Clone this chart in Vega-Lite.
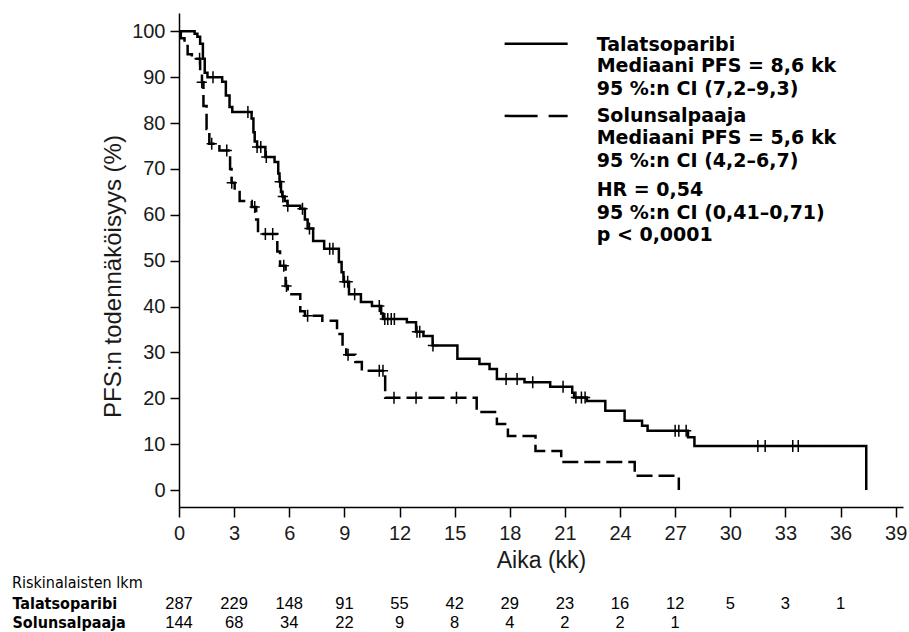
{
  "$schema": "https://vega.github.io/schema/vega-lite/v6.json",
  "autosize": {"type": "pad"},
  "padding": {"left": 12, "top": 13, "right": 0, "bottom": 0},
  "background": "white",
  "config": {"view": {"stroke": null}, "font": "Liberation Sans"},
  "bounds": "flush",
  "spacing": 87,
  "datasets": {
    "curves": [
      {"arm": "Talatsoparibi", "month": 0, "surv": 100},
      {"arm": "Talatsoparibi", "month": 0.7, "surv": 100},
      {"arm": "Talatsoparibi", "month": 0.85, "surv": 99.5},
      {"arm": "Talatsoparibi", "month": 1.0, "surv": 98.8},
      {"arm": "Talatsoparibi", "month": 1.15, "surv": 97.3},
      {"arm": "Talatsoparibi", "month": 1.3, "surv": 94},
      {"arm": "Talatsoparibi", "month": 1.4, "surv": 91},
      {"arm": "Talatsoparibi", "month": 1.55, "surv": 90},
      {"arm": "Talatsoparibi", "month": 2.35, "surv": 89},
      {"arm": "Talatsoparibi", "month": 2.55, "surv": 86},
      {"arm": "Talatsoparibi", "month": 2.75, "surv": 83.5},
      {"arm": "Talatsoparibi", "month": 2.9, "surv": 82.4},
      {"arm": "Talatsoparibi", "month": 3.95, "surv": 81},
      {"arm": "Talatsoparibi", "month": 4.05, "surv": 78},
      {"arm": "Talatsoparibi", "month": 4.12, "surv": 76},
      {"arm": "Talatsoparibi", "month": 4.25, "surv": 74.8},
      {"arm": "Talatsoparibi", "month": 4.7, "surv": 72.6},
      {"arm": "Talatsoparibi", "month": 5.2, "surv": 71.5},
      {"arm": "Talatsoparibi", "month": 5.4, "surv": 69},
      {"arm": "Talatsoparibi", "month": 5.47, "surv": 67.2},
      {"arm": "Talatsoparibi", "month": 5.55, "surv": 65},
      {"arm": "Talatsoparibi", "month": 5.62, "surv": 64},
      {"arm": "Talatsoparibi", "month": 5.75, "surv": 63},
      {"arm": "Talatsoparibi", "month": 5.9, "surv": 62},
      {"arm": "Talatsoparibi", "month": 6.6, "surv": 61.3},
      {"arm": "Talatsoparibi", "month": 6.85, "surv": 59},
      {"arm": "Talatsoparibi", "month": 7.0, "surv": 57},
      {"arm": "Talatsoparibi", "month": 7.3, "surv": 54.3},
      {"arm": "Talatsoparibi", "month": 7.9, "surv": 52.6},
      {"arm": "Talatsoparibi", "month": 8.7, "surv": 49.7},
      {"arm": "Talatsoparibi", "month": 8.85, "surv": 47.5},
      {"arm": "Talatsoparibi", "month": 8.95, "surv": 45.4},
      {"arm": "Talatsoparibi", "month": 9.25, "surv": 42.7},
      {"arm": "Talatsoparibi", "month": 9.9, "surv": 41},
      {"arm": "Talatsoparibi", "month": 10.5, "surv": 40.1},
      {"arm": "Talatsoparibi", "month": 11.0, "surv": 38.5},
      {"arm": "Talatsoparibi", "month": 11.1, "surv": 37.3},
      {"arm": "Talatsoparibi", "month": 12.4, "surv": 36.6},
      {"arm": "Talatsoparibi", "month": 12.9, "surv": 34.5},
      {"arm": "Talatsoparibi", "month": 13.3, "surv": 33.6},
      {"arm": "Talatsoparibi", "month": 13.8, "surv": 31.5},
      {"arm": "Talatsoparibi", "month": 15.15, "surv": 28.6},
      {"arm": "Talatsoparibi", "month": 16.35, "surv": 27.5},
      {"arm": "Talatsoparibi", "month": 16.9, "surv": 26.4},
      {"arm": "Talatsoparibi", "month": 17.3, "surv": 24.2},
      {"arm": "Talatsoparibi", "month": 18.8, "surv": 23.5},
      {"arm": "Talatsoparibi", "month": 20.2, "surv": 22.5},
      {"arm": "Talatsoparibi", "month": 21.4, "surv": 21.2},
      {"arm": "Talatsoparibi", "month": 21.5, "surv": 20.2},
      {"arm": "Talatsoparibi", "month": 22.2, "surv": 19.4},
      {"arm": "Talatsoparibi", "month": 23.2, "surv": 17.3},
      {"arm": "Talatsoparibi", "month": 24.25, "surv": 15.1},
      {"arm": "Talatsoparibi", "month": 25.2, "surv": 14},
      {"arm": "Talatsoparibi", "month": 25.5, "surv": 12.9},
      {"arm": "Talatsoparibi", "month": 27.7, "surv": 11.5},
      {"arm": "Talatsoparibi", "month": 28.05, "surv": 9.6},
      {"arm": "Talatsoparibi", "month": 37.4, "surv": 0},
      {"arm": "Solunsalpaaja", "month": 0, "surv": 100},
      {"arm": "Solunsalpaaja", "month": 0.1, "surv": 98.5},
      {"arm": "Solunsalpaaja", "month": 0.3, "surv": 96.8},
      {"arm": "Solunsalpaaja", "month": 0.47, "surv": 95},
      {"arm": "Solunsalpaaja", "month": 0.7, "surv": 94},
      {"arm": "Solunsalpaaja", "month": 1.15, "surv": 91.8},
      {"arm": "Solunsalpaaja", "month": 1.25, "surv": 88.9},
      {"arm": "Solunsalpaaja", "month": 1.33, "surv": 83.7},
      {"arm": "Solunsalpaaja", "month": 1.5, "surv": 78.7},
      {"arm": "Solunsalpaaja", "month": 1.65, "surv": 75.5},
      {"arm": "Solunsalpaaja", "month": 2.2, "surv": 74},
      {"arm": "Solunsalpaaja", "month": 2.78, "surv": 70},
      {"arm": "Solunsalpaaja", "month": 2.86, "surv": 67},
      {"arm": "Solunsalpaaja", "month": 3.03, "surv": 65},
      {"arm": "Solunsalpaaja", "month": 3.3, "surv": 63},
      {"arm": "Solunsalpaaja", "month": 3.96, "surv": 61.7},
      {"arm": "Solunsalpaaja", "month": 4.2, "surv": 59},
      {"arm": "Solunsalpaaja", "month": 4.3, "surv": 55.8},
      {"arm": "Solunsalpaaja", "month": 5.35, "surv": 52},
      {"arm": "Solunsalpaaja", "month": 5.5, "surv": 48.9},
      {"arm": "Solunsalpaaja", "month": 5.8, "surv": 44.5},
      {"arm": "Solunsalpaaja", "month": 5.92, "surv": 42.7},
      {"arm": "Solunsalpaaja", "month": 6.6, "surv": 39},
      {"arm": "Solunsalpaaja", "month": 6.85, "surv": 38},
      {"arm": "Solunsalpaaja", "month": 7.8, "surv": 36.9},
      {"arm": "Solunsalpaaja", "month": 8.6, "surv": 34},
      {"arm": "Solunsalpaaja", "month": 8.9, "surv": 31.4},
      {"arm": "Solunsalpaaja", "month": 9.1, "surv": 29.5},
      {"arm": "Solunsalpaaja", "month": 9.6, "surv": 27.9},
      {"arm": "Solunsalpaaja", "month": 9.95, "surv": 26},
      {"arm": "Solunsalpaaja", "month": 11.22, "surv": 20.1},
      {"arm": "Solunsalpaaja", "month": 16.2, "surv": 17},
      {"arm": "Solunsalpaaja", "month": 17.3, "surv": 14.4},
      {"arm": "Solunsalpaaja", "month": 17.9, "surv": 11.8},
      {"arm": "Solunsalpaaja", "month": 19.4, "surv": 8.5},
      {"arm": "Solunsalpaaja", "month": 20.8, "surv": 6.1},
      {"arm": "Solunsalpaaja", "month": 24.8, "surv": 3.1},
      {"arm": "Solunsalpaaja", "month": 27.2, "surv": 0}
    ],
    "censor": [
      {"arm": "Talatsoparibi", "month": 1.85, "surv": 90},
      {"arm": "Talatsoparibi", "month": 3.75, "surv": 82.4},
      {"arm": "Talatsoparibi", "month": 4.25, "surv": 74.8},
      {"arm": "Talatsoparibi", "month": 4.45, "surv": 74.8},
      {"arm": "Talatsoparibi", "month": 4.75, "surv": 72.6},
      {"arm": "Talatsoparibi", "month": 5.48, "surv": 67.2},
      {"arm": "Talatsoparibi", "month": 5.65, "surv": 64},
      {"arm": "Talatsoparibi", "month": 5.92, "surv": 62},
      {"arm": "Talatsoparibi", "month": 6.72, "surv": 61.3},
      {"arm": "Talatsoparibi", "month": 7.1, "surv": 57},
      {"arm": "Talatsoparibi", "month": 8.2, "surv": 52.6},
      {"arm": "Talatsoparibi", "month": 8.38, "surv": 52.6},
      {"arm": "Talatsoparibi", "month": 9.0, "surv": 45.4},
      {"arm": "Talatsoparibi", "month": 9.18, "surv": 45.4},
      {"arm": "Talatsoparibi", "month": 9.56, "surv": 42.7},
      {"arm": "Talatsoparibi", "month": 10.9, "surv": 40.1},
      {"arm": "Talatsoparibi", "month": 11.2, "surv": 37.3},
      {"arm": "Talatsoparibi", "month": 11.36, "surv": 37.3},
      {"arm": "Talatsoparibi", "month": 11.55, "surv": 37.3},
      {"arm": "Talatsoparibi", "month": 11.72, "surv": 37.3},
      {"arm": "Talatsoparibi", "month": 12.95, "surv": 34.5},
      {"arm": "Talatsoparibi", "month": 13.1, "surv": 34.5},
      {"arm": "Talatsoparibi", "month": 13.82, "surv": 31.5},
      {"arm": "Talatsoparibi", "month": 17.8, "surv": 24.2},
      {"arm": "Talatsoparibi", "month": 18.4, "surv": 24.2},
      {"arm": "Talatsoparibi", "month": 19.25, "surv": 23.5},
      {"arm": "Talatsoparibi", "month": 20.9, "surv": 22.5},
      {"arm": "Talatsoparibi", "month": 21.6, "surv": 20.2},
      {"arm": "Talatsoparibi", "month": 21.9, "surv": 20.2},
      {"arm": "Talatsoparibi", "month": 22.1, "surv": 20.2},
      {"arm": "Talatsoparibi", "month": 27.0, "surv": 12.9},
      {"arm": "Talatsoparibi", "month": 27.2, "surv": 12.9},
      {"arm": "Talatsoparibi", "month": 27.6, "surv": 12.9},
      {"arm": "Talatsoparibi", "month": 31.5, "surv": 9.6},
      {"arm": "Talatsoparibi", "month": 31.9, "surv": 9.6},
      {"arm": "Talatsoparibi", "month": 33.4, "surv": 9.6},
      {"arm": "Talatsoparibi", "month": 33.7, "surv": 9.6},
      {"arm": "Solunsalpaaja", "month": 1.12, "surv": 94},
      {"arm": "Solunsalpaaja", "month": 1.24, "surv": 88.9},
      {"arm": "Solunsalpaaja", "month": 1.78, "surv": 75.5},
      {"arm": "Solunsalpaaja", "month": 2.6, "surv": 74},
      {"arm": "Solunsalpaaja", "month": 2.87, "surv": 67},
      {"arm": "Solunsalpaaja", "month": 4.12, "surv": 61.7},
      {"arm": "Solunsalpaaja", "month": 4.7, "surv": 55.8},
      {"arm": "Solunsalpaaja", "month": 5.1, "surv": 55.8},
      {"arm": "Solunsalpaaja", "month": 5.7, "surv": 48.9},
      {"arm": "Solunsalpaaja", "month": 5.85, "surv": 44.5},
      {"arm": "Solunsalpaaja", "month": 7.0, "surv": 38},
      {"arm": "Solunsalpaaja", "month": 9.2, "surv": 29.5},
      {"arm": "Solunsalpaaja", "month": 10.9, "surv": 26},
      {"arm": "Solunsalpaaja", "month": 11.1, "surv": 26},
      {"arm": "Solunsalpaaja", "month": 11.7, "surv": 20.1},
      {"arm": "Solunsalpaaja", "month": 12.9, "surv": 20.1},
      {"arm": "Solunsalpaaja", "month": 15.1, "surv": 20.1}
    ],
    "legendlines": [
      {"arm": "Talatsoparibi", "month": 17.72, "month2": 21.15, "surv": 97.27},
      {"arm": "Solunsalpaaja", "month": 17.72, "month2": 21.15, "surv": 81.57}
    ],
    "legendtext": [
      {"month": 22.73, "surv": 95.75, "label": "Talatsoparibi"},
      {"month": 22.73, "surv": 91.17, "label": "Mediaani PFS = 8,6 kk"},
      {"month": 22.73, "surv": 86.15, "label": "95 %:n CI (7,2–9,3)"},
      {"month": 22.73, "surv": 80.26, "label": "Solunsalpaaja"},
      {"month": 22.73, "surv": 75.46, "label": "Mediaani PFS = 5,6 kk"},
      {"month": 22.73, "surv": 70.45, "label": "95 %:n CI (4,2–6,7)"},
      {"month": 22.73, "surv": 64.12, "label": "HR = 0,54"},
      {"month": 22.73, "surv": 59.1, "label": "95 %:n CI (0,41–0,71)"},
      {"month": 22.73, "surv": 54.3, "label": "p < 0,0001"}
    ],
    "risk": [
      {"arm": "Talatsoparibi", "month": 0, "n": 287},
      {"arm": "Talatsoparibi", "month": 3, "n": 229},
      {"arm": "Talatsoparibi", "month": 6, "n": 148},
      {"arm": "Talatsoparibi", "month": 9, "n": 91},
      {"arm": "Talatsoparibi", "month": 12, "n": 55},
      {"arm": "Talatsoparibi", "month": 15, "n": 42},
      {"arm": "Talatsoparibi", "month": 18, "n": 29},
      {"arm": "Talatsoparibi", "month": 21, "n": 23},
      {"arm": "Talatsoparibi", "month": 24, "n": 16},
      {"arm": "Talatsoparibi", "month": 27, "n": 12},
      {"arm": "Talatsoparibi", "month": 30, "n": 5},
      {"arm": "Talatsoparibi", "month": 33, "n": 3},
      {"arm": "Talatsoparibi", "month": 36, "n": 1},
      {"arm": "Solunsalpaaja", "month": 0, "n": 144},
      {"arm": "Solunsalpaaja", "month": 3, "n": 68},
      {"arm": "Solunsalpaaja", "month": 6, "n": 34},
      {"arm": "Solunsalpaaja", "month": 9, "n": 22},
      {"arm": "Solunsalpaaja", "month": 12, "n": 9},
      {"arm": "Solunsalpaaja", "month": 15, "n": 8},
      {"arm": "Solunsalpaaja", "month": 18, "n": 4},
      {"arm": "Solunsalpaaja", "month": 21, "n": 2},
      {"arm": "Solunsalpaaja", "month": 24, "n": 2},
      {"arm": "Solunsalpaaja", "month": 27, "n": 1}
    ]
  },
  "vconcat": [
    {
      "width": 724,
      "height": 494,
      "layer": [
        {
          "data": {"name": "curves"},
          "mark": {"type": "line", "interpolate": "step-after", "strokeWidth": 2.5, "color": "black"},
          "encoding": {
            "x": {
              "field": "month", "type": "quantitative",
              "scale": {"domain": [0, 39.4], "nice": false, "zero": false},
              "axis": {
                "title": "Aika (kk)",
                "values": [0, 3, 6, 9, 12, 15, 18, 21, 24, 27, 30, 33, 36, 39],
                "grid": false, "tickSize": 10, "tickWidth": 1.5, "domainWidth": 1.5,
                "domainColor": "black", "tickColor": "black",
                "labelFontSize": 20, "labelPadding": 6, "labelColor": "#1a1a1a", "labelFlush": false,
                "titleFontSize": 23, "titleFontWeight": "normal", "titleColor": "#1a1a1a", "titlePadding": 6
              }
            },
            "y": {
              "field": "surv", "type": "quantitative",
              "scale": {"domain": [-3.7, 104], "nice": false, "zero": false},
              "axis": {
                "title": "PFS:n todennäköisyys (%)",
                "values": [0, 10, 20, 30, 40, 50, 60, 70, 80, 90, 100],
                "grid": false, "tickSize": 9, "tickWidth": 1.5, "domainWidth": 1.5,
                "domainColor": "black", "tickColor": "black",
                "labelFontSize": 20, "labelPadding": 5, "labelColor": "#1a1a1a",
                "titleFontSize": 24, "titleFontWeight": "normal", "titleColor": "#1a1a1a", "titlePadding": 6, "titleY": 263
              }
            },
            "strokeDash": {
              "field": "arm", "type": "nominal",
              "scale": {"domain": ["Talatsoparibi", "Solunsalpaaja"], "range": [[1, 0], [16, 6]]},
              "legend": null
            }
          }
        },
        {
          "data": {"name": "censor"},
          "mark": {"type": "point", "shape": "M0,-1L0,1M-0.85,0L0.85,0", "filled": false, "size": 144, "strokeWidth": 1.5, "color": "black", "opacity": 1},
          "encoding": {
            "x": {"field": "month", "type": "quantitative"},
            "y": {"field": "surv", "type": "quantitative"}
          }
        },
        {
          "data": {"name": "legendlines"},
          "transform": [{"filter": "datum.arm === 'Talatsoparibi'"}],
          "mark": {"type": "rule", "strokeWidth": 2.5, "color": "black"},
          "encoding": {
            "x": {"field": "month", "type": "quantitative"},
            "x2": {"field": "month2"},
            "y": {"field": "surv", "type": "quantitative"}
          }
        },
        {
          "data": {"name": "legendlines"},
          "transform": [{"filter": "datum.arm === 'Solunsalpaaja'"}],
          "mark": {"type": "rule", "strokeWidth": 2.5, "color": "black", "strokeDash": [33, 11]},
          "encoding": {
            "x": {"field": "month", "type": "quantitative"},
            "x2": {"field": "month2"},
            "y": {"field": "surv", "type": "quantitative"}
          }
        },
        {
          "data": {"name": "legendtext"},
          "mark": {"type": "text", "align": "left", "baseline": "alphabetic", "font": "DejaVu Sans", "fontWeight": "bold", "fontSize": 19, "color": "black"},
          "encoding": {
            "x": {"field": "month", "type": "quantitative"},
            "y": {"field": "surv", "type": "quantitative"},
            "text": {"field": "label", "type": "nominal"}
          }
        }
      ]
    },
    {
      "width": 724,
      "height": 38,
      "title": {"text": "Riskinalaisten lkm", "anchor": "start", "frame": "group", "dx": -167, "fontSize": 16, "fontWeight": "normal", "font": "DejaVu Sans Condensed, DejaVu Sans, sans-serif", "color": "black", "offset": 3},
      "data": {"name": "risk"},
      "mark": {"type": "text", "fontSize": 16.5, "font": "Liberation Sans, sans-serif", "color": "black", "baseline": "middle", "align": "center"},
      "encoding": {
        "x": {"field": "month", "type": "quantitative", "scale": {"domain": [0, 39.4], "nice": false, "zero": false}, "axis": null},
        "y": {
          "field": "arm", "type": "nominal", "sort": ["Talatsoparibi", "Solunsalpaaja"],
          "scale": {"paddingInner": 0, "paddingOuter": 0},
          "axis": {"title": null, "domain": false, "ticks": false, "tickSize": 0, "labelAlign": "left", "labelPadding": 167, "labelFontWeight": "bold", "labelFontSize": 16, "labelFont": "DejaVu Sans Condensed, DejaVu Sans, sans-serif", "labelColor": "black"}
        },
        "text": {"field": "n", "type": "quantitative"}
      }
    }
  ]
}
